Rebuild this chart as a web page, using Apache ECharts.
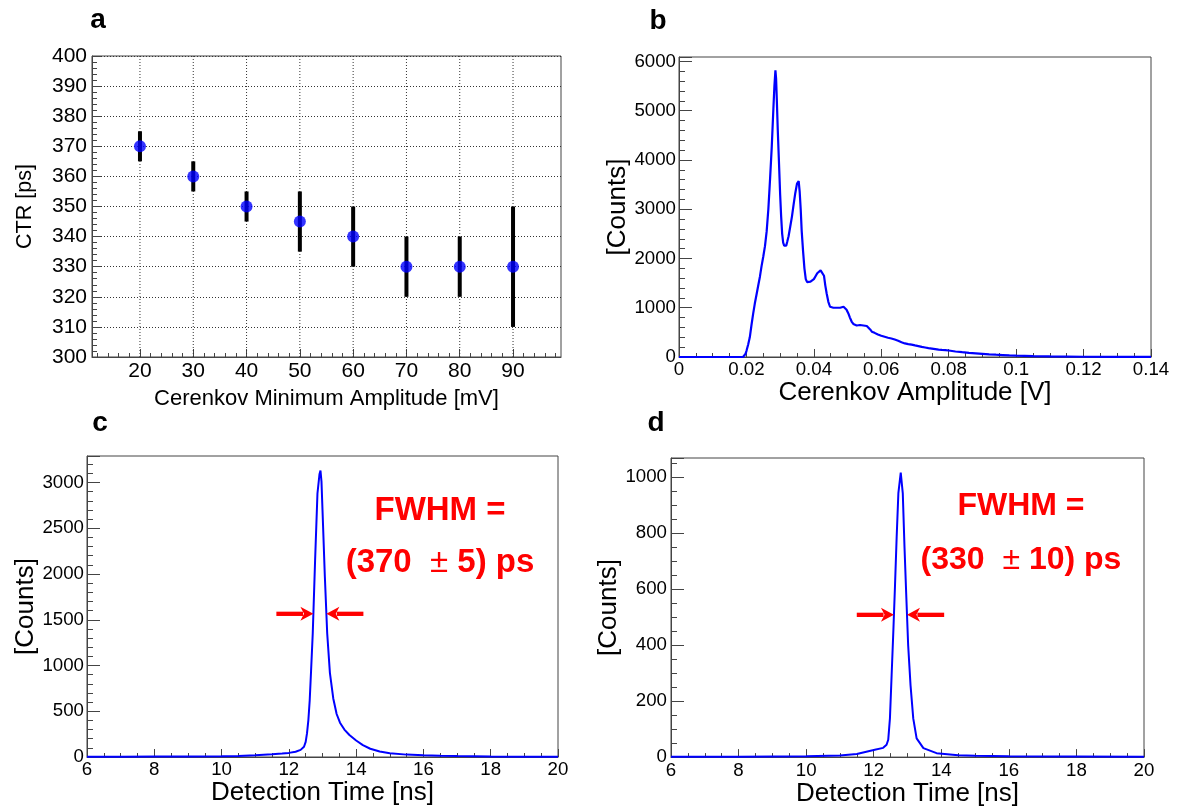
<!DOCTYPE html>
<html><head><meta charset="utf-8">
<script src="https://cdn.jsdelivr.net/npm/echarts@6/dist/echarts.min.js"></script>
<style>html,body{margin:0;padding:0;background:#fff}#c{width:1178px;height:808px}</style>
</head><body><div id="c"></div>
<script>
// ---------- DATA ----------
// Panel a: CTR vs Cerenkov minimum amplitude
const ampMV = [20, 30, 40, 50, 60, 70, 80, 90];
const ctrPs = [370, 360, 350, 345, 340, 330, 330, 330];
const ctrErrPs = [5, 5, 5, 10, 10, 10, 10, 20];
const ampTickLabels = [20, 30, 40, 50, 60, 70, 80, 90];

// Panel b: Cerenkov amplitude spectrum
const cerenkovV = [0, 0.0190, 0.0193, 0.0197, 0.0200, 0.0205, 0.0210, 0.0215, 0.0220, 0.0225, 0.0230, 0.0235, 0.0240, 0.0245, 0.0250, 0.0255, 0.0260, 0.0265, 0.0270, 0.0275, 0.0280, 0.0283, 0.0286, 0.0288, 0.0290, 0.0293, 0.0296, 0.0300, 0.0303, 0.0306, 0.0309, 0.0312, 0.0315, 0.0318, 0.0321, 0.0325, 0.0330, 0.0335, 0.0340, 0.0345, 0.0350, 0.0355, 0.0358, 0.0361, 0.0364, 0.0368, 0.0372, 0.0376, 0.0380, 0.0385, 0.0390, 0.0395, 0.0400, 0.0405, 0.0410, 0.0415, 0.0420, 0.0425, 0.0430, 0.0434, 0.0438, 0.0443, 0.0448, 0.0453, 0.0458, 0.0463, 0.0468, 0.0473, 0.0478, 0.0483, 0.0488, 0.0492, 0.0497, 0.0502, 0.0507, 0.0512, 0.0517, 0.0522, 0.0527, 0.0532, 0.0537, 0.0542, 0.0547, 0.0552, 0.0557, 0.0562, 0.0567, 0.0572, 0.0580, 0.0590, 0.0600, 0.0610, 0.0620, 0.0630, 0.0640, 0.0650, 0.0660, 0.0670, 0.0680, 0.0690, 0.0700, 0.0710, 0.0720, 0.0730, 0.0740, 0.0750, 0.0760, 0.0770, 0.0780, 0.0790, 0.0800, 0.0820, 0.0840, 0.0860, 0.0880, 0.0900, 0.0920, 0.0940, 0.0960, 0.0980, 0.1000, 0.1050, 0.1100, 0.1200, 0.1300, 0.1400];
const cerenkovCounts = [0, 0, 0, 60, 120, 250, 400, 650, 880, 1090, 1270, 1450, 1630, 1850, 2040, 2250, 2550, 3000, 3600, 4250, 5050, 5500, 5820, 5650, 5250, 4600, 4050, 3300, 2850, 2500, 2320, 2260, 2300, 2260, 2340, 2450, 2650, 2850, 3100, 3330, 3520, 3570, 3350, 3000, 2550, 2150, 1800, 1580, 1520, 1490, 1530, 1510, 1580, 1640, 1700, 1680, 1760, 1790, 1650, 1450, 1290, 1120, 1020, 990, 1000, 980, 1000, 975, 1000, 990, 1020, 1020, 960, 890, 800, 720, 670, 660, 640, 660, 650, 630, 640, 610, 630, 600, 560, 515, 490, 455, 430, 410, 390, 375, 355, 330, 300, 275, 262, 250, 235, 222, 205, 193, 180, 170, 160, 150, 143, 138, 132, 112, 98, 85, 75, 65, 55, 47, 40, 33, 27, 17, 11, 5, 2, 1];

// Panel c: detection time, 20 mV threshold
const timeC = [6.0, 7.0, 8.0, 9.0, 10.0, 10.5, 11.0, 11.5, 11.8, 12.0, 12.2, 12.35, 12.45, 12.5, 12.54, 12.58, 12.62, 12.66, 12.71, 12.78, 12.85, 12.91, 12.94, 12.97, 13.0, 13.07, 13.14, 13.22, 13.32, 13.42, 13.52, 13.65, 13.8, 14.0, 14.2, 14.42, 14.7, 15.0, 15.5, 16.0, 16.5, 17.0, 18.0, 19.0, 20.0];
const countsC = [3, 4, 5, 6, 8, 12, 18, 30, 38, 45, 58, 78, 112, 165, 260, 404, 620, 940, 1350, 2150, 2880, 3090, 3130, 3010, 2700, 1970, 1350, 920, 640, 470, 375, 300, 240, 180, 130, 90, 60, 42, 26, 18, 13, 10, 6, 4, 3];

// Panel d: detection time, 90 mV threshold
const timeD = [6.0, 8.0, 9.0, 10.0, 11.0, 11.5, 12.0, 12.28, 12.38, 12.43, 12.48, 12.53, 12.58, 12.63, 12.68, 12.73, 12.80, 12.86, 12.91, 12.96, 13.02, 13.09, 13.17, 13.27, 13.47, 13.86, 14.5, 15.0, 16.0, 18.0, 20.0];
const countsD = [1, 1, 2, 3, 6, 11, 25, 33, 44, 62, 138, 292, 446, 611, 788, 942, 1015, 942, 753, 587, 398, 256, 138, 67, 32, 14, 7, 5, 3, 2, 1];

const fwhmTextC = ['FWHM =', '(370', '5) ps'];
const fwhmTextD = ['FWHM =', '(330', '10) ps'];

// ---------- STYLE ----------
const FONT = '"Liberation Sans", Arial, Helvetica, sans-serif';
const FRAME = '#444';
const BLUE = '#0000ff';
const RED = '#ff0000';
const ARROW_NS = 1.1;

function mainAxis(o) {
  const ax = {
    type: 'value', gridIndex: o.grid, position: o.pos,
    min: o.min, max: o.max,
    name: o.name, nameLocation: 'middle', nameGap: o.nameGap,
    nameTextStyle: { fontFamily: FONT, fontSize: o.nameSize, color: '#000' },
    axisLine: { show: true, onZero: false, lineStyle: { color: FRAME, width: 1 } },
    axisTick: { show: true, inside: true, length: o.tickLen, lineStyle: { color: FRAME, width: 1 } },
    axisLabel: { show: true, margin: o.margin, fontFamily: FONT, fontSize: o.labelSize, color: '#000',
      formatter: o.fmt, showMinLabel: true, showMaxLabel: true, hideOverlap: false },
    splitLine: { show: !!o.gridLines, lineStyle: { color: '#333', type: [1, 2], width: 1 } }
  };
  if (o.interval != null) ax.interval = o.interval;
  if (o.customValues) { ax.axisTick.customValues = o.customValues; ax.axisLabel.customValues = o.customValues; }
  return ax;
}
function minorAxis(o) {
  const ax = {
    type: 'value', gridIndex: o.grid, position: o.pos,
    min: o.min, max: o.max,
    axisLine: { show: false }, axisLabel: { show: false }, splitLine: { show: false },
    axisTick: { show: true, inside: true, length: o.tickLen, lineStyle: { color: FRAME, width: 1 } }
  };
  if (o.interval != null) ax.interval = o.interval;
  if (o.customValues) ax.axisTick.customValues = o.customValues;
  return ax;
}
const mult = (m) => (v) => (Math.abs(v / m - Math.round(v / m)) < 1e-6 ? String(+v.toFixed(4)) : '');

function halfCrossings(xs, ys) {
  const peak = Math.max(...ys), ip = ys.indexOf(peak), h = peak / 2;
  let left = xs[ip], right = xs[ip];
  for (let i = ip; i > 0; i--) if (ys[i - 1] < h && ys[i] >= h) { left = xs[i - 1] + (h - ys[i - 1]) / (ys[i] - ys[i - 1]) * (xs[i] - xs[i - 1]); break; }
  for (let i = ip; i < ys.length - 1; i++) if (ys[i] >= h && ys[i + 1] < h) { right = xs[i] + (ys[i] - h) / (ys[i] - ys[i + 1]) * (xs[i + 1] - xs[i]); break; }
  return { h, left, right };
}
const hc = halfCrossings(timeC, countsC);
const hd = halfCrossings(timeD, countsD);

// minor tick positions of panel a x axis (every 2 mV inside the 11..99 frame)
const ampMinorTicks = [];
for (let v = 12; v <= 98; v += 2) ampMinorTicks.push(v);

const grids = [
  { left: 92, top: 56, width: 469, height: 301 },
  { left: 679, top: 57, width: 472, height: 300 },
  { left: 87, top: 456, width: 471, height: 301 },
  { left: 671, top: 458, width: 473, height: 301 }
].map(g => Object.assign(g, { show: true, borderColor: FRAME, borderWidth: 1, backgroundColor: 'transparent', containLabel: false }));

const xAxes = [
  mainAxis({ grid: 0, pos: 'bottom', min: 11, max: 99, customValues: ampTickLabels, name: 'Cerenkov Minimum Amplitude [mV]', nameGap: 31, nameSize: 22, tickLen: 8, margin: 4, labelSize: 21, fmt: (v) => String(v) }),
  minorAxis({ grid: 0, pos: 'bottom', min: 11, max: 99, customValues: ampMinorTicks, tickLen: 4 }),
  mainAxis({ grid: 1, pos: 'bottom', min: 0, max: 0.14, interval: 0.02, name: 'Cerenkov Amplitude [V]', nameGap: 23, nameSize: 26, tickLen: 8, margin: 3, labelSize: 18.7, fmt: mult(0.02) }),
  minorAxis({ grid: 1, pos: 'bottom', min: 0, max: 0.14, interval: 0.005, tickLen: 4 }),
  mainAxis({ grid: 2, pos: 'bottom', min: 6, max: 20, interval: 2, name: 'Detection Time [ns]', nameGap: 22, nameSize: 26, tickLen: 8, margin: 3, labelSize: 18.7, fmt: mult(2) }),
  minorAxis({ grid: 2, pos: 'bottom', min: 6, max: 20, interval: 0.5, tickLen: 4 }),
  mainAxis({ grid: 3, pos: 'bottom', min: 6, max: 20, interval: 2, name: 'Detection Time [ns]', nameGap: 23, nameSize: 26, tickLen: 8, margin: 4, labelSize: 18.7, fmt: mult(2) }),
  minorAxis({ grid: 3, pos: 'bottom', min: 6, max: 20, interval: 0.5, tickLen: 4 })
];
const yAxes = [
  mainAxis({ grid: 0, pos: 'left', min: 300, max: 400, interval: 10, name: 'CTR [ps]', nameGap: 56, nameSize: 21.5, tickLen: 9, margin: 5, labelSize: 21, fmt: mult(10), gridLines: true }),
  minorAxis({ grid: 0, pos: 'left', min: 300, max: 400, interval: 2, tickLen: 5 }),
  mainAxis({ grid: 1, pos: 'left', min: 0, max: 6090, interval: 1000, name: '[Counts]', nameGap: 48, nameSize: 26, tickLen: 13, margin: 3, labelSize: 18.7, fmt: mult(1000) }),
  minorAxis({ grid: 1, pos: 'left', min: 0, max: 6090, interval: 200, tickLen: 6 }),
  mainAxis({ grid: 2, pos: 'left', min: 0, max: 3290, interval: 500, name: '[Counts]', nameGap: 43, nameSize: 26, tickLen: 13, margin: 3, labelSize: 18.7, fmt: mult(500) }),
  minorAxis({ grid: 2, pos: 'left', min: 0, max: 3290, interval: 100, tickLen: 6 }),
  mainAxis({ grid: 3, pos: 'left', min: 0, max: 1067, interval: 200, name: '[Counts]', nameGap: 42, nameSize: 26, tickLen: 13, margin: 4, labelSize: 18.7, fmt: mult(200) }),
  minorAxis({ grid: 3, pos: 'left', min: 0, max: 1067, interval: 50, tickLen: 6 })
];

function arrowItem(params, api) {
  const t = api.coord([api.value(0), api.value(1)]);
  const p = api.coord([api.value(2), api.value(1)]);
  const dir = Math.sign(p[0] - t[0]);
  const hl = 13, hw = 7;
  return { type: 'group', children: [
    { type: 'line', shape: { x1: t[0], y1: t[1], x2: p[0] - dir * hl * 0.8, y2: p[1] }, style: { stroke: RED, lineWidth: 4.3 } },
    { type: 'polygon', shape: { points: [[p[0], p[1]], [p[0] - dir * hl, p[1] - hw], [p[0] - dir * hl * 0.72, p[1]], [p[0] - dir * hl, p[1] + hw]] }, style: { fill: RED } }
  ] };
}

const series = [
  // vertical dotted grid lines of panel a at the labelled amplitudes
  { type: 'custom', xAxisIndex: 0, yAxisIndex: 0, z: 1, silent: true,
    data: ampTickLabels.map(v => [v, 300]), encode: { x: 0, y: 1 },
    renderItem: (params, api) => {
      const cs = params.coordSys;
      const x = api.coord([api.value(0), api.value(1)])[0];
      return { type: 'line', shape: { x1: x, y1: cs.y, x2: x, y2: cs.y + cs.height }, style: { stroke: '#333', lineWidth: 1, lineDash: [1, 2] } };
    } },
  { type: 'custom', xAxisIndex: 0, yAxisIndex: 0, z: 3,
    data: ampMV.map((x, i) => [x, ctrPs[i] - ctrErrPs[i], ctrPs[i] + ctrErrPs[i]]),
    encode: { x: 0, y: [1, 2] },
    renderItem: (params, api) => {
      const a = api.coord([api.value(0), api.value(1)]), b = api.coord([api.value(0), api.value(2)]);
      return { type: 'line', shape: { x1: a[0], y1: a[1], x2: b[0], y2: b[1] }, style: { stroke: '#000', lineWidth: 4 } };
    } },
  { type: 'scatter', xAxisIndex: 0, yAxisIndex: 0, z: 4, symbol: 'circle', symbolSize: 12,
    itemStyle: { color: BLUE }, data: ampMV.map((x, i) => [x, ctrPs[i]]) },
  { type: 'line', xAxisIndex: 2, yAxisIndex: 2, showSymbol: false, lineStyle: { color: BLUE, width: 2.2 },
    data: cerenkovV.map((x, i) => [x, cerenkovCounts[i]]) },
  { type: 'line', xAxisIndex: 4, yAxisIndex: 4, showSymbol: false, lineStyle: { color: BLUE, width: 2 },
    data: timeC.map((x, i) => [x, countsC[i]]) },
  { type: 'line', xAxisIndex: 6, yAxisIndex: 6, showSymbol: false, lineStyle: { color: BLUE, width: 2 },
    data: timeD.map((x, i) => [x, countsD[i]]) },
  { type: 'custom', xAxisIndex: 4, yAxisIndex: 4, z: 5, encode: { x: [0, 2], y: 1 },
    data: [[hc.left - ARROW_NS, hc.h, hc.left], [hc.right + ARROW_NS, hc.h, hc.right]], renderItem: arrowItem },
  { type: 'custom', xAxisIndex: 6, yAxisIndex: 6, z: 5, encode: { x: [0, 2], y: 1 },
    data: [[hd.left - ARROW_NS, hd.h, hd.left], [hd.right + ARROW_NS, hd.h, hd.right]], renderItem: arrowItem }
];

function panelLabel(t, x, y) {
  return { type: 'text', x: x, y: y, style: { text: t, font: 'bold 28px ' + FONT, fill: '#000', align: 'center', verticalAlign: 'middle' } };
}
function fwhm(lines, cx, y1, y2, size) {
  return [
    { type: 'text', x: cx, y: y1, style: { text: lines[0], font: 'bold ' + size + 'px ' + FONT, fill: RED, align: 'center', verticalAlign: 'middle' } },
    { type: 'text', x: cx, y: y2, style: {
      text: '{b|' + lines[1] + '  }{p|\u00b1}{b| ' + lines[2] + '}', align: 'center', verticalAlign: 'middle',
      rich: { b: { font: 'bold ' + size + 'px ' + FONT, fill: RED }, p: { font: size + 'px ' + FONT, fill: RED } } } }
  ];
}

const chart = echarts.init(document.getElementById('c'), null, { renderer: 'canvas' });
chart.setOption({
  animation: false,
  backgroundColor: '#fff',
  grid: grids,
  xAxis: xAxes,
  yAxis: yAxes,
  series: series,
  graphic: [
    panelLabel('a', 98, 20), panelLabel('b', 658, 21), panelLabel('c', 100, 423), panelLabel('d', 656, 423),
    ...fwhm(fwhmTextC, 440, 511, 563, 33),
    ...fwhm(fwhmTextD, 1021, 506, 560, 32)
  ]
});
</script></body></html>
